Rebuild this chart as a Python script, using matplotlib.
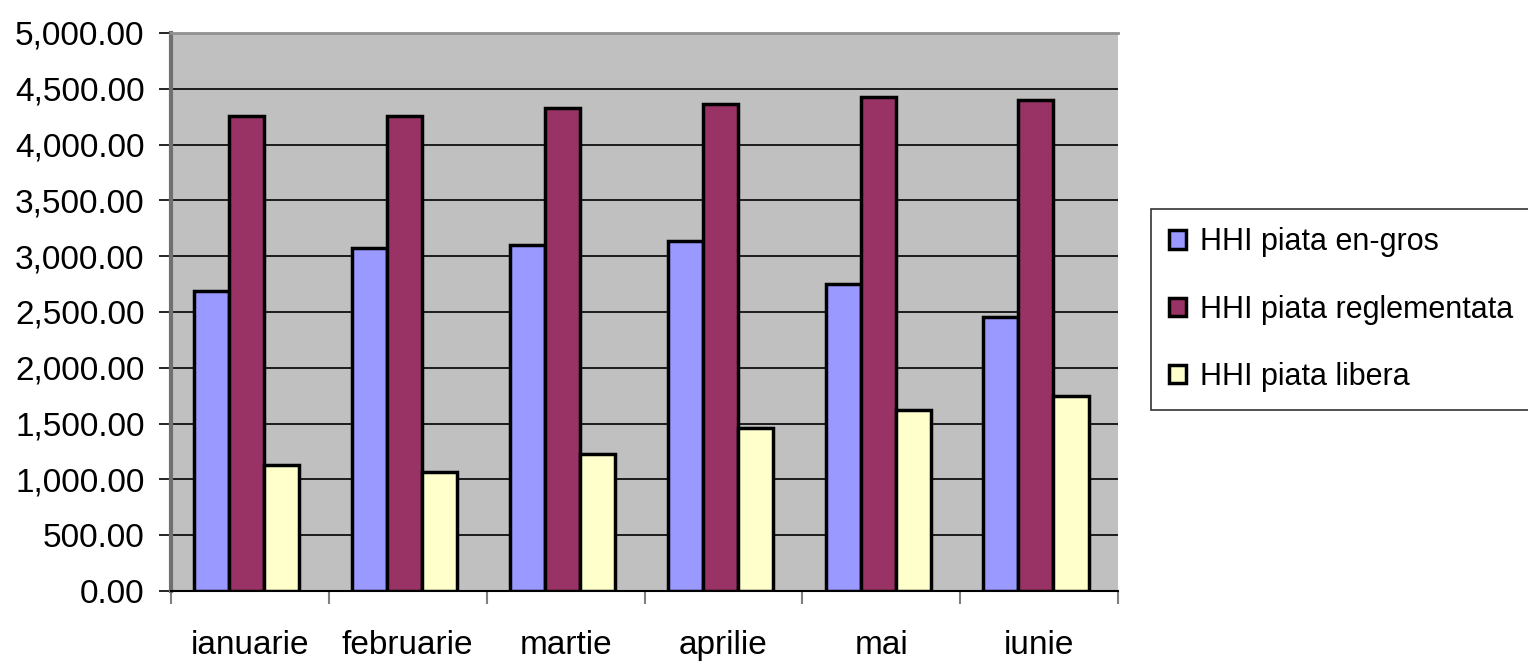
import matplotlib.pyplot as plt
import numpy as np
from matplotlib.patches import Patch
from matplotlib.ticker import FuncFormatter

plt.rcParams['font.family'] = ['Liberation Sans', 'DejaVu Sans']

# Date
luni = ['ianuarie', 'februarie', 'martie', 'aprilie', 'mai', 'iunie']
en_gros = [2688, 3073, 3100, 3136, 2751, 2455]
reglementata = [4259, 4259, 4328, 4364, 4427, 4400]
libera = [1129, 1064, 1228, 1460, 1622, 1747]

serii = ['HHI piata en-gros', 'HHI piata reglementata', 'HHI piata libera']
culori = ['#9999FF', '#993366', '#FFFFCC']

fig = plt.figure(figsize=(15.28, 6.66), dpi=100)
ax = fig.add_axes([0.1119, 0.1126, 0.6198, 0.8379])
ax.set_facecolor('#C0C0C0')

x = np.arange(len(luni))
w = 0.222
for k, (vals, c) in enumerate(zip([en_gros, reglementata, libera], culori)):
    ax.bar(x + (k - 1) * w - 0.02, vals, width=w, color=c, edgecolor='black',
           linewidth=2.5, zorder=3)

ax.set_xlim(-0.5, len(luni) - 0.5)
ax.set_ylim(0, 5000)
ax.set_yticks(np.arange(0, 5001, 500))
ax.yaxis.set_major_formatter(FuncFormatter(lambda v, p: f'{v:,.2f}'))
ax.grid(axis='y', color='black', linewidth=1.2, zorder=1)
ax.set_axisbelow(True)

# x ticks la granitele categoriilor, etichete la centru
ax.set_xticks(np.arange(-0.5, len(luni)), labels=[])
ax.set_xticks(x, minor=True)
ax.set_xticklabels(luni, minor=True)
ax.tick_params(axis='x', which='major', length=9, color='#808080', width=1.5)
ax.tick_params(axis='x', which='minor', length=0, pad=28, labelsize=24)
ax.tick_params(axis='y', length=9, width=1.2, color='black', labelsize=24, pad=10)

ax.spines['left'].set_color('#707070')
ax.spines['left'].set_linewidth(3)
ax.spines['top'].set_color('#909090')
ax.spines['top'].set_linewidth(2)
ax.spines['right'].set_visible(False)
ax.spines['bottom'].set_color('black')
ax.spines['bottom'].set_linewidth(1.5)

handles = [Patch(facecolor=c, edgecolor='black', linewidth=2.5) for c in culori]
leg = fig.legend(handles, serii, loc='upper left',
                 bbox_to_anchor=(1151 / 1528, 1 - 209 / 666),
                 fontsize=22, frameon=True, fancybox=False,
                 handlelength=0.55, handleheight=0.55, handletextpad=0.45,
                 labelspacing=1.22, borderpad=0.6, borderaxespad=0)
leg.get_frame().set_edgecolor('black')
leg.get_frame().set_linewidth(1.2)

fig.savefig('out.png', dpi=100)
